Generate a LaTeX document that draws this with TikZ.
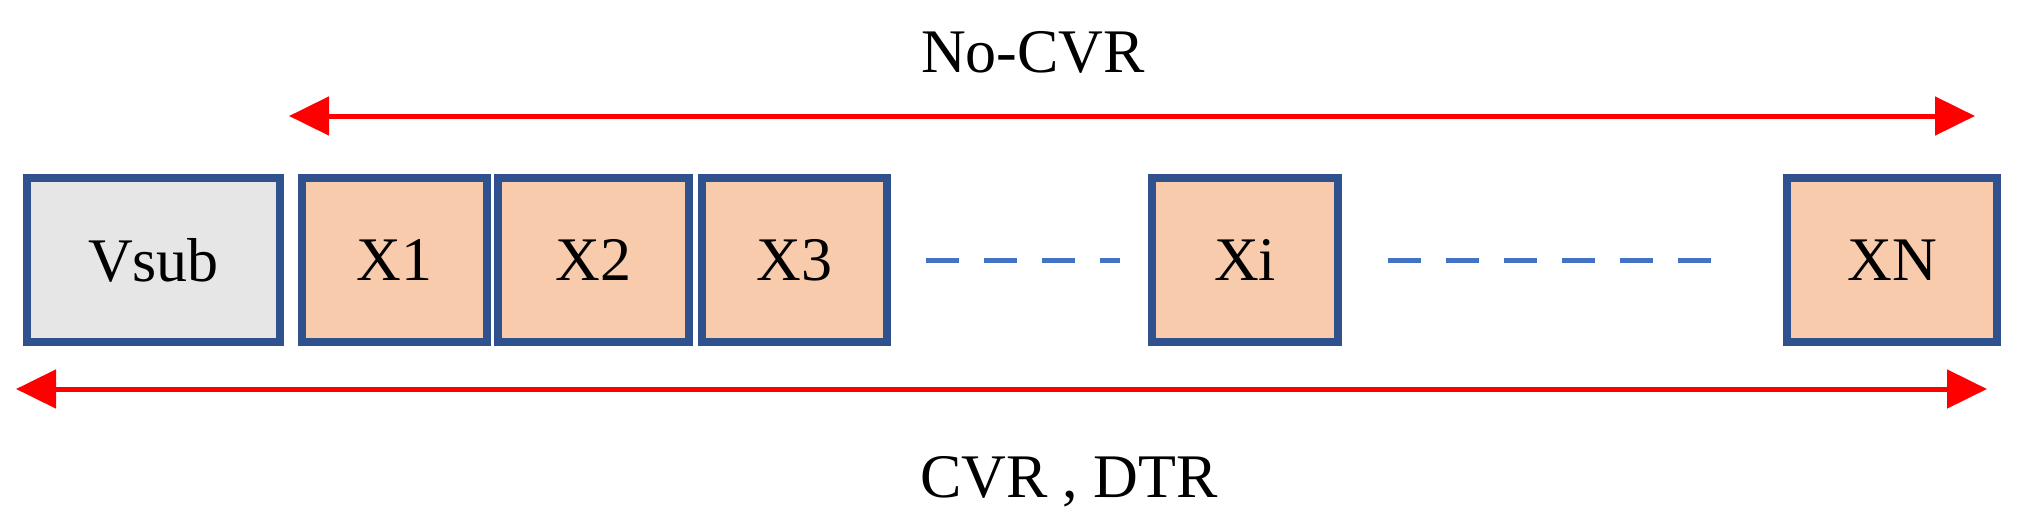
\documentclass[tikz,border=0pt]{standalone}
\usepackage{fontspec}
\setmainfont{Liberation Serif}
\usetikzlibrary{arrows.meta}
\definecolor{bord}{HTML}{2F528F}
\definecolor{fillo}{HTML}{F8CBAD}
\definecolor{fillg}{HTML}{E7E6E6}
\definecolor{dashc}{HTML}{4472C4}
\begin{document}
\begin{tikzpicture}[x=1pt,y=-1pt,
  box/.style={draw=bord,line width=8pt,minimum height=164pt,inner sep=0pt,font=\fontsize{62}{70}\selectfont},
  arr/.style={red,line width=5pt,{Triangle[length=40pt,width=38pt]}-{Triangle[length=40pt,width=38pt]}},
  dl/.style={draw=dashc,line width=5pt,dash pattern=on 33pt off 25pt},
  lab/.style={font=\fontsize{62}{70}\selectfont}]
\useasboundingbox (0,0) rectangle (2042,530);
\node[box,fill=fillg,minimum width=253pt] (vs) at (153.5,260) {Vsub};
\node[box,fill=fillo,minimum width=185pt] (x1) at (394.5,260) {X1};
\node[box,fill=fillo,minimum width=191pt] (x2) at (593.5,260) {X2};
\node[box,fill=fillo,minimum width=185pt] (x3) at (794.5,260) {X3};
\node[box,fill=fillo,minimum width=186pt] (xi) at (1245,260) {Xi};
\node[box,fill=fillo,minimum width=210pt] (xn) at (1892,260) {XN};
\coordinate (d1a) at (926,260); \coordinate (d1b) at (1120,260);
\coordinate (d2a) at (1388,260); \coordinate (d2b) at (1730,260);
\draw[dl] (d1a) -- (d1b);
\draw[dl] (d2a) -- (d2b);
\coordinate (ta) at (289,116); \coordinate (tb) at (1975,116);
\coordinate (ba) at (16,389); \coordinate (bb) at (1987,389);
\draw[arr] (ta) -- (tb);
\draw[arr] (ba) -- (bb);
\node[lab] (nc) at (1033,52) {No-CVR};
\node[lab] (cd) at (1069,482) {CVR , DTR};
\end{tikzpicture}
\end{document}
